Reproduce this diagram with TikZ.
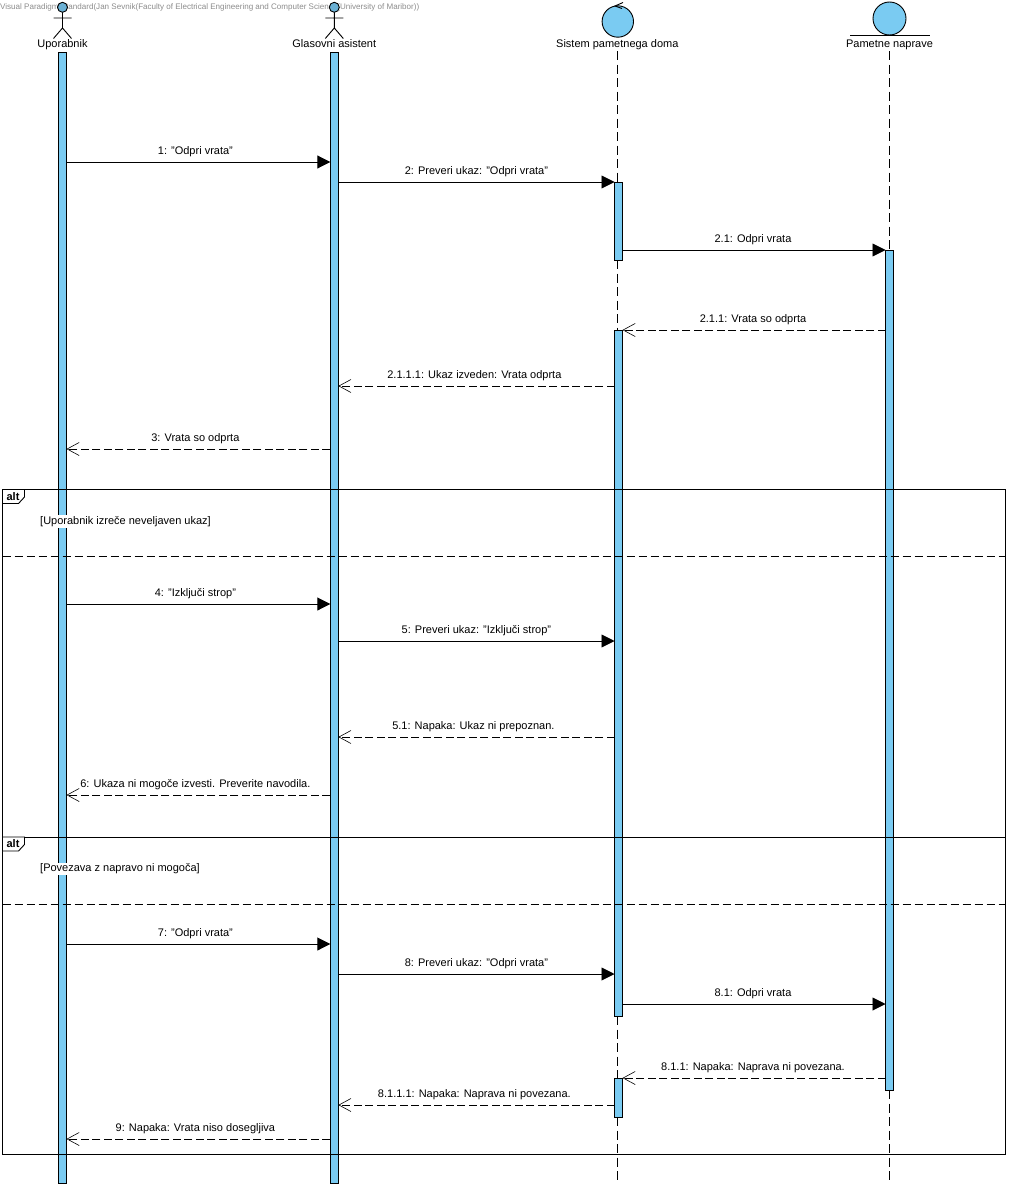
\documentclass[tikz,border=0pt]{standalone}
\usepackage{fontspec}
\setmainfont{Liberation Sans}
\usepackage{xcolor}
\usetikzlibrary{arrows.meta}
\definecolor{barblue}{HTML}{7ACBF2}
\definecolor{headblue}{HTML}{6AB0D4}
\tikzset{
  barbox/.style={draw=black, fill=barblue, line width=.9pt, minimum width=8pt, inner sep=0pt, outer sep=0pt, anchor=north},
  lifeline/.style={black, line width=.9pt, dash pattern=on 9pt off 4.5pt},
  namelabel/.style={font=\fontsize{11}{13}\selectfont, inner sep=0pt, text height=8pt, text depth=2.5pt, minimum height=12pt},
  msglabel/.style={font=\fontsize{11}{12}\selectfont, inner sep=0pt, text height=8pt, text depth=2pt},
  callmsg/.style={black, line width=.9pt, -{Triangle[length=13pt,width=13pt]}},
  replymsg/.style={black, line width=.9pt, dash pattern=on 8pt off 3.5pt, -{Straight Barb[length=12pt,width=13pt,line width=.6pt]}},
  framebox/.style={draw=black, line width=.9pt},
  altline/.style={black, line width=.9pt, dash pattern=on 8pt off 4pt},
}
\begin{document}
\begin{tikzpicture}[x=1pt, y=-1pt, line cap=butt, line join=miter]
  \useasboundingbox (0,0) rectangle (1009,1188);

  % Activation bars.
  \foreach \name/\x/\top/\len in {barU/62.5/52/1131, barG/334.3/52/1131, barSa/618.5/182/78,
      barSb/618.5/330/686, barSc/618.5/1078/39, barP/889.5/250/840}{
    \node[barbox, minimum height=\len pt] (\name) at (\x,\top) {};
  }

  % Header labels and lifelines between the bars.
  \node[namelabel] (lblU) at (62.5,45) {Uporabnik};
  \node[namelabel] (lblG) at (334.3,45) {Glasovni asistent};
  \node[namelabel] (lblS) at (617.3,45) {Sistem pametnega doma};
  \node[namelabel] (lblP) at (889.5,45) {Pametne naprave};
  \coordinate (endS) at (617.3,1183);
  \coordinate (endP) at (889.5,1183);
  \draw[lifeline] (lblS.south) -- (barSa.north -| lblS.south);
  \draw[lifeline] (barSa.south -| lblS.south) -- (barSb.north -| lblS.south);
  \draw[lifeline] (barSb.south -| lblS.south) -- (barSc.north -| lblS.south);
  \draw[lifeline] (barSc.south -| lblS.south) -- (endS);
  \draw[lifeline] (lblP.south) -- (barP.north -| lblP.south);
  \draw[lifeline] (barP.south -| lblP.south) -- (endP);

  % Watermark.
  \node[anchor=west, inner sep=0pt, text=black!45, font=\fontsize{8.05}{10}\selectfont] (mark) at (0,7.5)
    {Visual Paradigm Standard(Jan Sevnik(Faculty of Electrical Engineering and Computer Science(University of Maribor))};

  % Actors.
  \foreach \x in {62.5,334.3}{
    \fill[headblue] (\x,7.3) circle (5);
    \draw[line width=.9pt] (\x,7.3) circle (5);
    \draw[line width=.9pt] (\x,12.3) -- (\x,28) (\x-9,18) -- (\x+9,18)
      (\x-9,38.5) -- (\x,28) -- (\x+9,38.5);
  }

  % Control and boundary heads.
  \draw[fill=barblue, line width=.9pt] (617.8,21.5) circle (15.7);
  \draw[line width=.9pt] (623,2.5) -- (615,6) -- (622,8.5);
  \draw[fill=barblue, line width=.9pt] (889.5,18.5) circle (16.5);
  \draw[line width=.9pt] (850,35) -- (930,35);

  % Alt frames.
  \draw[framebox] (2.5,489.5) rectangle (1005.5,837);
  \draw[framebox] (2.5,837) rectangle (1005.5,1154.5);
  \foreach \y/\guard/\n in {489.5/Uporabnik izreče neveljaven ukaz/a, 837/Povezava z napravo ni mogoča/b}{
    \draw[framebox, fill=white] (2.5,\y) -- ++(22,0) -- ++(0,7.5) -- ++(-6,6.5) -- ++(-16,0) -- cycle;
    \node[inner sep=0pt, font=\fontsize{11}{12}\selectfont\bfseries] (tag\n) at (13,\y+7) {alt};
    \node[anchor=west, inner sep=1pt, fill=white, font=\fontsize{11}{12}\selectfont] (guard\n) at (39,\y+32) {[\guard]};
  }
  \draw[altline] (2.5,556) -- (1005.5,556);
  \draw[altline] (2.5,904.5) -- (1005.5,904.5);

  % Calls.
  \foreach \y/\from/\to/\dx/\txt in {
      162/barU/barG/-3/1: "Odpri vrata",
      182/barG/barSa/0/2: Preveri ukaz: "Odpri vrata",
      250/barSa/barP/-1/2.1: Odpri vrata,
      604/barU/barG/-3/4: "Izključi strop",
      641/barG/barSb/0/5: Preveri ukaz: "Izključi strop",
      944/barU/barG/-3/7: "Odpri vrata",
      974/barG/barSb/0/8: Preveri ukaz: "Odpri vrata",
      1004/barSb/barP/-1/8.1: Odpri vrata}{
    \draw[callmsg] (\from.east |- 0,\y) -- (\to.west |- 0,\y)
      node[msglabel, midway, above=5.5pt, xshift=\dx pt] (call\y) {\txt};
  }

  % Replies.
  \foreach \y/\from/\to/\dx/\txt in {
      330/barP/barSb/-1/2.1.1: Vrata so odprta,
      386/barSb/barG/-2/2.1.1.1: Ukaz izveden: Vrata odprta,
      449/barG/barU/-3/3: Vrata so odprta,
      737/barSb/barG/-3/5.1: Napaka: Ukaz ni prepoznan.,
      795/barG/barU/-3/6: Ukaza ni mogoče izvesti. Preverite navodila.,
      1078/barP/barSc/-1/8.1.1: Napaka: Naprava ni povezana.,
      1105/barSc/barG/-2/8.1.1.1: Napaka: Naprava ni povezana.,
      1139/barG/barU/-3/9: Napaka: Vrata niso dosegljiva}{
    \draw[replymsg] (\from.west |- 0,\y) -- (\to.east |- 0,\y)
      node[msglabel, midway, above=5.5pt, xshift=\dx pt] (reply\y) {\txt};
  }
\end{tikzpicture}
\end{document}
